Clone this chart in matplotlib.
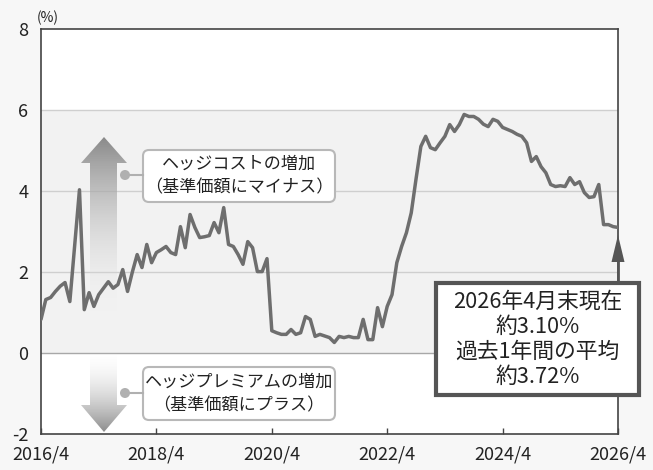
import numpy as np
import matplotlib
matplotlib.use('Agg')
import matplotlib.pyplot as plt
import matplotlib.transforms as mtransforms
from matplotlib.patches import Polygon, FancyBboxPatch, Rectangle, Circle
from matplotlib.colors import LinearSegmentedColormap

plt.rcParams['font.family'] = ['Noto Sans CJK JP', 'DejaVu Sans']

# Data: monthly hedge cost (%), 2016/4 .. 2026/4
HEDGE_COST = [
    0.83, 1.32, 1.37, 1.52, 1.65, 1.74, 1.27, 2.65, 4.03, 1.07,
    1.49, 1.15, 1.44, 1.60, 1.76, 1.60, 1.69, 2.06, 1.52, 2.00,
    2.43, 2.11, 2.68, 2.23, 2.48, 2.55, 2.63, 2.48, 2.43, 3.12,
    2.60, 3.42, 3.10, 2.85, 2.87, 2.90, 3.22, 2.97, 3.59, 2.68,
    2.63, 2.43, 2.19, 2.75, 2.60, 2.01, 2.01, 2.33, 0.55, 0.50,
    0.46, 0.46, 0.58, 0.46, 0.50, 0.90, 0.83, 0.41, 0.46, 0.42,
    0.38, 0.26, 0.41, 0.38, 0.41, 0.38, 0.38, 0.83, 0.33, 0.33,
    1.12, 0.65, 1.15, 1.44, 2.23, 2.63, 2.97, 3.46, 4.30, 5.10,
    5.35, 5.07, 5.02, 5.19, 5.35, 5.64, 5.47, 5.64, 5.89, 5.84,
    5.84, 5.77, 5.65, 5.59, 5.77, 5.72, 5.57, 5.52, 5.47, 5.40,
    5.35, 5.19, 4.73, 4.85, 4.60, 4.45, 4.16, 4.11, 4.13, 4.11,
    4.33, 4.16, 4.23, 3.96, 3.84, 3.86, 4.16, 3.17, 3.17, 3.12,
    3.10,
]
MONTHS = np.arange(len(HEDGE_COST))
X_TICKS = [0, 24, 48, 72, 96, 120]
X_LABELS = ['2016/4', '2018/4', '2020/4', '2022/4', '2024/4', '2026/4']
Y_TICKS = [-2, 0, 2, 4, 6, 8]
Y_LABELS = ['-2', '0', '2', '4', '6', '8']

W, H = 653, 470
fig = plt.figure(figsize=(W / 100, H / 100), dpi=100)
fig.patch.set_facecolor('#f7f7f7')

ax = fig.add_axes([41 / W, 1 - 434 / H, 577 / W, 405 / H])
ax.set_facecolor('white')

# shaded band and grid
ax.axhspan(0, 6, color='#f2f2f2', zorder=0, lw=0)
for v in [2, 4, 6]:
    ax.axhline(v, color='#cfcfcf', lw=1.0, zorder=1)
ax.axhline(0, color='#a8a8a8', lw=1.0, zorder=1)

ax.plot(MONTHS, HEDGE_COST, color='#6e6e6e', lw=2.5, zorder=4,
        solid_joinstyle='round', solid_capstyle='round')

ax.set_xticks(X_TICKS)
ax.set_xticklabels(X_LABELS)
ax.set_yticks(Y_TICKS)
ax.set_yticklabels(Y_LABELS)
ax.tick_params(axis='x', direction='in', length=4, width=1, color='#444444',
               pad=8, labelsize=13, labelcolor='#222222')
ax.tick_params(axis='y', length=0, pad=9, labelsize=13, labelcolor='#222222')
for s in ax.spines.values():
    s.set_color('#444444')
    s.set_linewidth(1.2)

# pixel transform (y down) for annotations
T = mtransforms.Affine2D().scale(1 / W, -1 / H).translate(0, 1) + fig.transFigure


def grad_arrow(verts, y_a, y_b, c_a, c_b):
    poly = Polygon(verts, closed=True, transform=T, facecolor='none',
                   edgecolor='none')
    ax.add_patch(poly)
    xs = [p[0] for p in verts]
    cmap = LinearSegmentedColormap.from_list('g', [c_a, c_b])
    grad = np.linspace(0, 1, 256).reshape(-1, 1)
    im = ax.imshow(grad, cmap=cmap, aspect='auto', origin='upper',
                   extent=(min(xs), max(xs), y_b, y_a), transform=T,
                   zorder=2, interpolation='bilinear')
    im.set_clip_path(poly)


# up arrow (hedge cost increase)
grad_arrow([(90, 312), (117, 312), (117, 163), (127, 163), (104, 137),
            (81, 163), (90, 163)],
           137, 312, (0.54, 0.54, 0.54, 1.0), (0.93, 0.93, 0.93, 0.0))
# down arrow (hedge premium increase)
grad_arrow([(90, 352), (117, 352), (117, 405), (127, 405), (104, 432),
            (81, 405), (90, 405)],
           352, 432, (0.95, 0.95, 0.95, 0.0), (0.55, 0.55, 0.55, 1.0))

ax.set_xlim(0, 120)
ax.set_ylim(-2, 8)

# overlay for callouts
ov = fig.add_axes([0, 0, 1, 1])
ov.set_xlim(0, W)
ov.set_ylim(H, 0)
ov.axis('off')

ov.text(37, 18, '(%)', fontsize=10, color='#222222', ha='left', va='center')

for (yc, y0, y1, lines) in [
    (175, 150, 202, ['ヘッジコストの増加', '（基準価額にマイナス）']),
    (393, 367, 420, ['ヘッジプレミアムの増加', '（基準価額にプラス）']),
]:
    ov.add_patch(FancyBboxPatch((143, y0), 192, y1 - y0,
                                boxstyle='round,pad=0,rounding_size=6',
                                facecolor='white', edgecolor='#b8b8b8', lw=1.5))
    ov.plot([125, 143], [yc, yc], color='#b0b0b0', lw=1.5)
    ov.add_patch(Circle((125, yc), 5, facecolor='#b0b0b0', edgecolor='none'))
    ov.text(239, yc - 11, lines[0], fontsize=12.3, color='#222222',
            ha='center', va='center')
    ov.text(239, yc + 12, lines[1], fontsize=12.3, color='#222222',
            ha='center', va='center')

# current value box
ov.add_patch(Rectangle((436, 283), 203, 112, facecolor='white',
                       edgecolor='#555555', lw=3))
for yy, s in zip([302, 327, 352, 377],
                 ['2026年4月末現在', '約3.10%', '過去1年間の平均', '約3.72%']):
    ov.text(537.5, yy, s, fontsize=15.7, color='#222222', ha='center', va='center')
ov.plot([618, 618], [281, 258], color='#555555', lw=2)
ov.add_patch(Polygon([(611.5, 262), (624.5, 262), (618, 235)], closed=True,
                     facecolor='#555555', edgecolor='none'))

fig.savefig('out.png', dpi=100, facecolor=fig.get_facecolor())
